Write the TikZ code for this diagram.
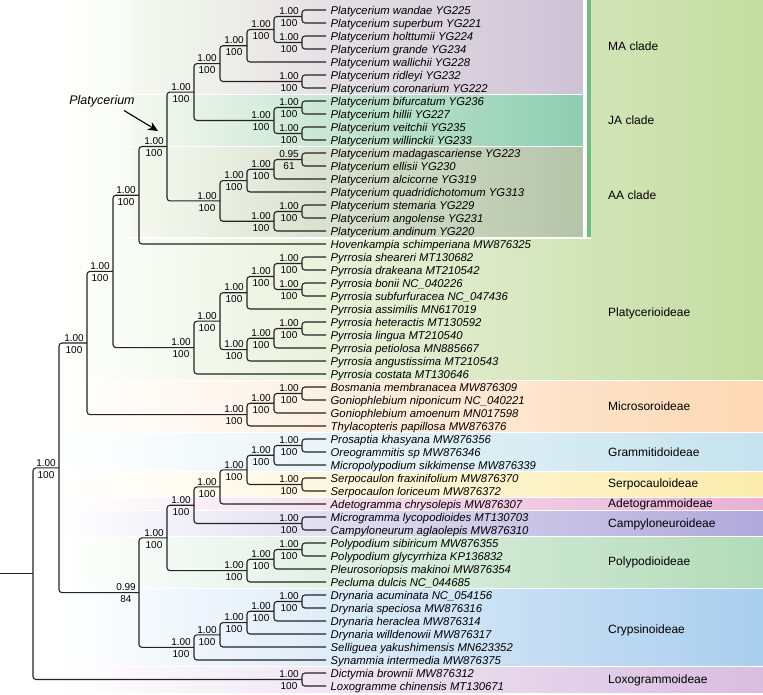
\documentclass[tikz,border=0pt]{standalone}
\usepackage{fontspec}
\setmainfont{Liberation Sans}
\usetikzlibrary{arrows.meta}
\definecolor{platC}{RGB}{196,220,160}
\definecolor{maC}{RGB}{206,194,214}
\definecolor{jaC}{RGB}{142,206,176}
\definecolor{aaC}{RGB}{180,196,168}
\definecolor{stripC}{RGB}{110,190,130}
\definecolor{micC}{RGB}{253,216,180}
\definecolor{graC}{RGB}{197,227,239}
\definecolor{serC}{RGB}{251,236,172}
\definecolor{adeC}{RGB}{232,176,214}
\definecolor{camC}{RGB}{176,168,218}
\definecolor{polC}{RGB}{178,219,184}
\definecolor{cryC}{RGB}{170,206,238}
\definecolor{loxC}{RGB}{216,190,224}
\definecolor{brC}{RGB}{35,35,35}
\newcommand\leaf[3]{\node[leafl] (#1) at (326,#2) {#3};}
\newcommand\inode[5]{\coordinate (#1) at (#2,#3);
  \node[suptop] (#1-t) at (#2-13,#3-1.5) {#4};
  \node[supbot] (#1-b) at (#2-13,#3+3) {#5};}
\newcommand\kids[3]{\draw[br] (#1) |- (#2); \draw[br] (#1) |- (#3);}
\newcommand\band[3]{\shade[left color=white, middle color=#3!75, right color=#3] (60,#1) rectangle (763,#2);}
\begin{document}
\begin{tikzpicture}[x=1pt,y=-1pt,
  br/.style={draw=brC, line width=1.1pt, rounded corners=3pt},
  leafl/.style={anchor=west, inner xsep=4.5pt, inner ysep=0pt, text height=8pt, text depth=0pt, font=\fontsize{11.3}{13}\selectfont\itshape},
  suptop/.style={anchor=south, inner sep=0pt, font=\fontsize{10}{12}\selectfont},
  supbot/.style={anchor=north, inner sep=0pt, font=\fontsize{10}{12}\selectfont},
  cladel/.style={anchor=west, inner sep=0pt, font=\fontsize{12}{14}\selectfont}]
\useasboundingbox (0,0) rectangle (763,694);
% ---------- background bands ----------
\shade[left color=white, middle color=platC!85, right color=platC] (60,0) rectangle (763,379.8);
\band{381.2}{431.8}{micC}
\band{433.2}{470.8}{graC}
\band{472.2}{496.8}{serC}
\band{498.2}{509.8}{adeC}
\band{511.2}{535.8}{camC}
\band{537.2}{587.8}{polC}
\band{589.2}{665.8}{cryC}
\band{667.2}{692}{loxC}
% Platycerium clade boxes
\shade[left color=platC!17!white, right color=maC] (130,0) rectangle (583,93.7);
\shade[left color=platC!17!white, right color=jaC] (130,95.3) rectangle (583,145.7);
\shade[left color=platC!17!white, right color=aaC] (130,147.3) rectangle (583,237);
\fill[white] (130,93.7) rectangle (591,95.3);
\fill[white] (130,145.7) rectangle (591,147.3);
\fill[white] (130,237) rectangle (591,238.6);
\fill[white] (583,0) rectangle (587,237);
\fill[stripC] (587,0) rectangle (591,237);
% ---------- clade labels ----------
\node[cladel] (lMA) at (608,46.5) {MA clade};
\node[cladel] (lJA) at (608,120.5) {JA clade};
\node[cladel] (lAA) at (608,195) {AA clade};
\node[cladel] (lPla) at (608,313) {Platycerioideae};
\node[cladel] (lMic) at (608,406.5) {Microsoroideae};
\node[cladel] (lGra) at (608,452) {Grammitidoideae};
\node[cladel] (lSer) at (608,484.5) {Serpocauloideae};
\node[cladel] (lAde) at (608,504.5) {Adetogrammoideae};
\node[cladel] (lCam) at (608,524.5) {Campyloneuroideae};
\node[cladel] (lPol) at (608,562.5) {Polypodioideae};
\node[cladel] (lCry) at (608,630) {Crypsinoideae};
\node[cladel] (lLox) at (608,680) {Loxogrammoideae};
% ---------- leaves ----------
\leaf{wan}{10}{Platycerium wandae YG225}
\leaf{sup}{23}{Platycerium superbum YG221}
\leaf{hol}{36}{Platycerium holttumii YG224}
\leaf{gra}{49}{Platycerium grande YG234}
\leaf{wal}{62}{Platycerium wallichii YG228}
\leaf{rid}{75}{Platycerium ridleyi YG232}
\leaf{cor}{88}{Platycerium coronarium YG222}
\leaf{bif}{101}{Platycerium bifurcatum YG236}
\leaf{hil}{114}{Platycerium hillii YG227}
\leaf{vei}{127}{Platycerium veitchii YG235}
\leaf{wil}{140}{Platycerium willinckii YG233}
\leaf{mad}{153}{Platycerium madagascariense YG223}
\leaf{ell}{166}{Platycerium ellisii YG230}
\leaf{alc}{179}{Platycerium alcicorne YG319}
\leaf{qua}{192}{Platycerium quadridichotomum YG313}
\leaf{ste}{205}{Platycerium stemaria YG229}
\leaf{ang}{218}{Platycerium angolense YG231}
\leaf{adn}{231}{Platycerium andinum YG220}
\leaf{hov}{244}{Hovenkampia schimperiana MW876325}
\leaf{she}{257}{Pyrrosia sheareri MT130682}
\leaf{dra}{270}{Pyrrosia drakeana MT210542}
\leaf{bon}{283}{Pyrrosia bonii NC\_040226}
\leaf{sub}{296}{Pyrrosia subfurfuracea NC\_047436}
\leaf{ass}{309}{Pyrrosia assimilis MN617019}
\leaf{het}{322}{Pyrrosia heteractis MT130592}
\leaf{lin}{335}{Pyrrosia lingua MT210540}
\leaf{pet}{348}{Pyrrosia petiolosa MN885667}
\leaf{agu}{361}{Pyrrosia angustissima MT210543}
\leaf{cos}{374}{Pyrrosia costata MT130646}
\leaf{bos}{387}{Bosmania membranacea MW876309}
\leaf{nip}{400}{Goniophlebium niponicum NC\_040221}
\leaf{amo}{413}{Goniophlebium amoenum MN017598}
\leaf{thy}{426}{Thylacopteris papillosa MW876376}
\leaf{pro}{439}{Prosaptia khasyana MW876356}
\leaf{ore}{452}{Oreogrammitis sp MW876346}
\leaf{mic}{465}{Micropolypodium sikkimense MW876339}
\leaf{fra}{478}{Serpocaulon fraxinifolium MW876370}
\leaf{lor}{491}{Serpocaulon loriceum MW876372}
\leaf{ade}{504}{Adetogramma chrysolepis MW876307}
\leaf{mgr}{517}{Microgramma lycopodioides MT130703}
\leaf{cam}{530}{Campyloneurum aglaolepis MW876310}
\leaf{sib}{543}{Polypodium sibiricum MW876355}
\leaf{gly}{556}{Polypodium glycyrrhiza KP136832}
\leaf{ple}{569}{Pleurosoriopsis makinoi MW876354}
\leaf{pec}{582}{Pecluma dulcis NC\_044685}
\leaf{acu}{595}{Drynaria acuminata NC\_054156}
\leaf{spe}{608}{Drynaria speciosa MW876316}
\leaf{her}{621}{Drynaria heraclea MW876314}
\leaf{wld}{634}{Drynaria willdenowii MW876317}
\leaf{sel}{647}{Selliguea yakushimensis MN623352}
\leaf{syn}{660}{Synammia intermedia MW876375}
\leaf{dic}{673}{Dictymia brownii MW876312}
\leaf{lox}{686}{Loxogramme chinensis MT130671}
% ---------- internal nodes ----------
\inode{a1}{302}{16.5}{1.00}{100}
\inode{a2}{302}{42.5}{1.00}{100}
\inode{a3}{274}{29.5}{1.00}{100}
\inode{a4}{247}{45.75}{1.00}{100}
\inode{a5}{302}{81.5}{1.00}{100}
\inode{MA}{220}{63.63}{1.00}{100}
\inode{b1}{302}{107.5}{1.00}{100}
\inode{b2}{302}{133.5}{1.00}{100}
\inode{JA}{274}{120.5}{1.00}{100}
\inode{MJ}{194}{92.06}{1.00}{100}
\inode{c1}{302}{159.5}{0.95}{61}
\inode{c2}{274}{169.25}{1.00}{100}
\inode{c3}{247}{180.63}{1.00}{100}
\inode{c4}{302}{211.5}{1.00}{100}
\inode{c5}{274}{221.25}{1.00}{100}
\inode{AA}{220}{200.94}{1.00}{100}
\inode{PC}{167}{146.5}{1.00}{100}
\inode{PH}{139}{195.25}{1.00}{100}
\inode{p1}{302}{263.5}{1.00}{100}
\inode{p2}{302}{289.5}{1.00}{100}
\inode{p3}{274}{276.5}{1.00}{100}
\inode{p4}{247}{292.75}{1.00}{100}
\inode{p5}{302}{328.5}{1.00}{100}
\inode{p6}{274}{338.25}{1.00}{100}
\inode{p7}{247}{349.63}{1.00}{100}
\inode{p8}{220}{321.19}{1.00}{100}
\inode{PY}{194}{347.59}{1.00}{100}
\inode{PL}{113}{271.42}{1.00}{100}
\inode{m1}{302}{393.5}{1.00}{100}
\inode{m2}{274}{403.25}{1.00}{100}
\inode{MS}{247}{414.63}{1.00}{100}
\inode{NA}{87}{343.02}{1.00}{100}
\inode{g1}{302}{445.5}{1.00}{100}
\inode{g2}{274}{455.25}{1.00}{100}
\inode{s1}{302}{484.5}{1.00}{100}
\inode{g3}{247}{469.88}{1.00}{100}
\inode{g4}{220}{486.94}{1.00}{100}
\inode{cmp}{302}{523.5}{1.00}{100}
\inode{g5}{194}{505.22}{1.00}{100}
\inode{y1}{302}{549.5}{1.00}{100}
\inode{y2}{274}{559.25}{1.00}{100}
\inode{PO}{247}{570.63}{1.00}{100}
\inode{g6}{167}{537.92}{1.00}{100}
\inode{d1}{302}{601.5}{1.00}{100}
\inode{d2}{274}{611.25}{1.00}{100}
\inode{d3}{247}{622.63}{1.00}{100}
\inode{d4}{220}{634.81}{1.00}{100}
\inode{CR}{194}{647.41}{1.00}{100}
\inode{NB}{139}{592.66}{0.99}{84}
\inode{NC}{59}{467.84}{1.00}{100}
\inode{LX}{302}{679.5}{1.00}{100}
\coordinate (ROOT) at (33,573.67);
\coordinate (rootin) at (0,573.67);
% ---------- branches ----------
\kids{a1}{wan.west}{sup.west}
\kids{a2}{hol.west}{gra.west}
\kids{a3}{a1}{a2}
\kids{a4}{a3}{wal.west}
\kids{a5}{rid.west}{cor.west}
\kids{MA}{a4}{a5}
\kids{b1}{bif.west}{hil.west}
\kids{b2}{vei.west}{wil.west}
\kids{JA}{b1}{b2}
\kids{MJ}{MA}{JA}
\kids{c1}{mad.west}{ell.west}
\kids{c2}{c1}{alc.west}
\kids{c3}{c2}{qua.west}
\kids{c4}{ste.west}{ang.west}
\kids{c5}{c4}{adn.west}
\kids{AA}{c3}{c5}
\kids{PC}{MJ}{AA}
\kids{PH}{PC}{hov.west}
\kids{p1}{she.west}{dra.west}
\kids{p2}{bon.west}{sub.west}
\kids{p3}{p1}{p2}
\kids{p4}{p3}{ass.west}
\kids{p5}{het.west}{lin.west}
\kids{p6}{p5}{pet.west}
\kids{p7}{p6}{agu.west}
\kids{p8}{p4}{p7}
\kids{PY}{p8}{cos.west}
\kids{PL}{PH}{PY}
\kids{m1}{bos.west}{nip.west}
\kids{m2}{m1}{amo.west}
\kids{MS}{m2}{thy.west}
\kids{NA}{PL}{MS}
\kids{g1}{pro.west}{ore.west}
\kids{g2}{g1}{mic.west}
\kids{s1}{fra.west}{lor.west}
\kids{g3}{g2}{s1}
\kids{g4}{g3}{ade.west}
\kids{cmp}{mgr.west}{cam.west}
\kids{g5}{g4}{cmp}
\kids{y1}{sib.west}{gly.west}
\kids{y2}{y1}{ple.west}
\kids{PO}{y2}{pec.west}
\kids{g6}{g5}{PO}
\kids{d1}{acu.west}{spe.west}
\kids{d2}{d1}{her.west}
\kids{d3}{d2}{wld.west}
\kids{d4}{d3}{sel.west}
\kids{CR}{d4}{syn.west}
\kids{NB}{g6}{CR}
\kids{NC}{NA}{NB}
\kids{LX}{dic.west}{lox.west}
\kids{ROOT}{NC}{LX}
\draw[br] (rootin) -- (ROOT);
% ---------- Platycerium pointer ----------
\node[inner sep=0pt, font=\fontsize{12.5}{14}\selectfont\itshape] (platl) at (102,101) {Platycerium};
\coordinate (arrtail) at (124,110.5);
\coordinate (arrtip) at (158,131);
\draw[draw=black, line width=1.1pt, -{Stealth[length=10pt,width=9pt]}] (arrtail) -- (arrtip);
\end{tikzpicture}
\end{document}
